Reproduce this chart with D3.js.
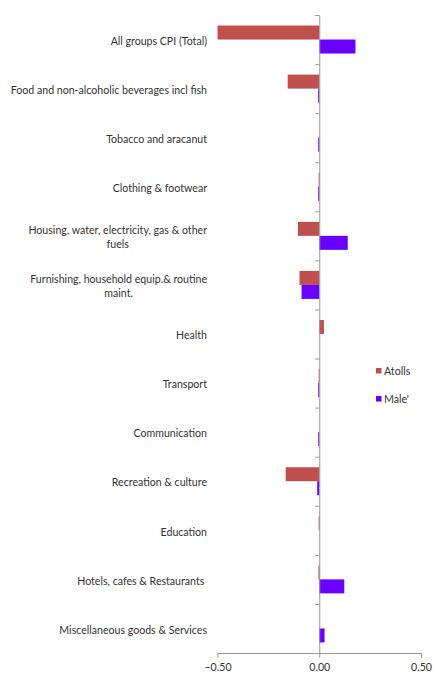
<!DOCTYPE html>
<html><head><meta charset="utf-8">
<script src="https://cdn.jsdelivr.net/npm/d3@7"></script>
<style>
html,body{margin:0;padding:0;background:#fff;}
svg{display:block;}
text{font-family:Lato,"Open Sans",sans-serif;fill:#333;white-space:pre;}
</style></head>
<body>
<svg id="chart" width="433" height="675"></svg>
<script>
const categories = [
  "All groups CPI (Total)",
  "Food and non-alcoholic beverages incl fish",
  "Tobacco and aracanut",
  "Clothing & footwear",
  "Housing, water, electricity, gas & other\nfuels",
  "Furnishing, household equip.& routine\nmaint.",
  "Health",
  "Transport",
  "Communication",
  "Recreation & culture",
  "Education",
  "Hotels, cafes & Restaurants ",
  "Miscellaneous goods & Services"
];
const seriesNames = ["Atolls", "Male'"];
const atolls = [-0.50, -0.155, 0.0, -0.003, -0.105, -0.097, 0.023, -0.003, 0.0, -0.165, -0.003, -0.004, 0.0];
const male   = [0.178, -0.005, -0.005, -0.005, 0.140, -0.087, 0.0, -0.005, -0.005, -0.010, 0.0, 0.123, 0.026];
const xTicks = [-0.5, 0, 0.5];
const colors = ["#C0504D", "#6A00FF"];

const svg = d3.select("#chart");
const plot = {left: 217.5, right: 421, top: 15, bottom: 653};
const fs = "10.6px";

const x = d3.scaleLinear().domain([-0.5, 0.5]).range([plot.left, plot.right]);
const y = d3.scaleBand().domain(categories).range([plot.top, plot.bottom])
  .paddingInner(0.43).paddingOuter(0.215);
const ySub = d3.scaleBand().domain(seriesNames).range([0, y.bandwidth()]);
const yIdx = d3.scaleLinear().domain([0, categories.length]).range([plot.top, plot.bottom]);

const data = [];
categories.forEach((c, i) => {
  data.push({cat: c, s: seriesNames[0], v: atolls[i]});
  data.push({cat: c, s: seriesNames[1], v: male[i]});
});
const color = d3.scaleOrdinal().domain(seriesNames).range(colors);

// bars
svg.append("g").selectAll("rect").data(data).join("rect")
  .attr("x", d => Math.min(x(0), x(d.v)))
  .attr("width", d => Math.max(Math.abs(x(d.v) - x(0)), d.v === 0 ? 0 : 1))
  .attr("y", d => y(d.cat) + ySub(d.s))
  .attr("height", ySub.bandwidth())
  .attr("fill", d => color(d.s));

// x axis
const xAxis = svg.append("g").attr("transform", `translate(0,${plot.bottom})`)
  .call(d3.axisBottom(x).tickValues(xTicks).tickFormat(d3.format(".2f")).tickSize(5).tickSizeOuter(0));
xAxis.select(".domain").attr("stroke", "#999");
xAxis.selectAll(".tick line").attr("stroke", "#999");
xAxis.selectAll(".tick text").attr("font-size", fs).attr("dy", "0.95em")
  .style("font-family", "Lato,'Open Sans',sans-serif").attr("fill", "#333");

// y axis (category boundaries)
const yAxis = svg.append("g").attr("transform", `translate(${x(0)},0)`)
  .call(d3.axisLeft(yIdx).tickValues(d3.range(categories.length + 1)).tickFormat("").tickSize(4).tickSizeOuter(0));
yAxis.select(".domain").attr("stroke", "#999");
yAxis.selectAll(".tick line").attr("stroke", "#999");

// category labels
const labelRight = 207;
const lineH = 14.5;
const lg = svg.append("g");
categories.forEach(c => {
  const lines = c.split("\n");
  const cy = y(c) + y.bandwidth() / 2 + 1.5;
  const t = lg.append("text").attr("font-size", fs);
  lines.forEach((ln, j) => {
    t.append("tspan").text(ln)
      .attr("y", cy + (j - (lines.length - 1) / 2) * lineH)
      .attr("dy", "0.35em");
  });
  if (lines.length === 1) {
    t.attr("text-anchor", "end").selectAll("tspan").attr("x", labelRight);
  } else {
    let w = 0;
    t.selectAll("tspan").each(function(){ w = Math.max(w, this.getComputedTextLength()); });
    t.attr("text-anchor", "middle").selectAll("tspan").attr("x", labelRight - w / 2);
  }
});

// legend
const leg = svg.append("g").attr("transform", "translate(376,371)");
seriesNames.forEach((s, i) => {
  const g = leg.append("g").attr("transform", `translate(0,${i * 28})`);
  g.append("rect").attr("x", 0).attr("y", -3).attr("width", 5.5).attr("height", 5.5).attr("fill", color(s));
  g.append("text").attr("x", 8).attr("y", 0).attr("dy", "0.35em").attr("font-size", fs).text(s);
});
</script>
</body></html>
